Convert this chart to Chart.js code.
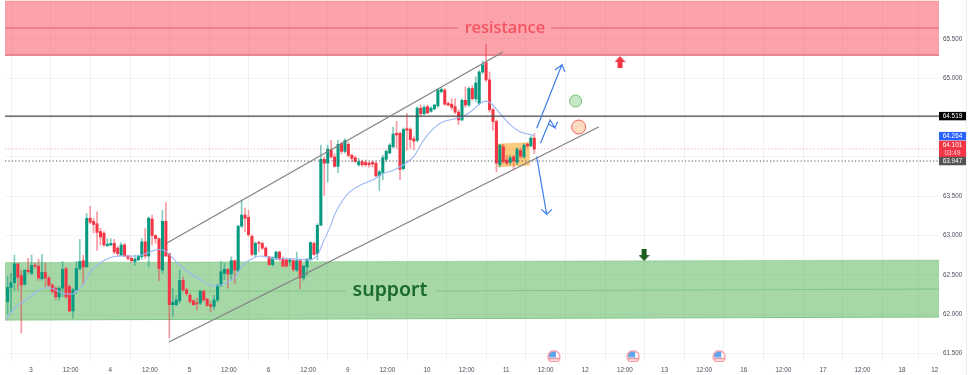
<!DOCTYPE html>
<html>
<head>
<meta charset="utf-8">
<title>Chart</title>
<style>
    html, body { margin: 0; padding: 0; background: #ffffff; }
    canvas { display: block; filter: blur(0.4px); }
</style>
<script src="https://cdn.jsdelivr.net/npm/chart.js@4/dist/chart.umd.min.js"></script>
</head>
<body>
<canvas id="priceChart" width="974" height="375"></canvas>
<script>
// candles, bar by bar
const opens = [62.16,62.34,62.40,62.64,62.49,62.38,62.56,62.52,62.62,62.61,62.45,62.53,62.46,62.37,62.33,62.22,62.33,62.58,62.35,62.04,62.31,62.58,62.68,62.60,63.22,63.18,63.15,63.05,63.03,62.87,62.88,62.90,62.84,62.75,62.88,62.74,62.71,62.67,62.69,62.73,62.92,62.74,63.21,63.00,62.96,62.56,63.18,62.77,62.12,62.12,62.17,62.43,62.31,62.24,62.17,62.14,62.14,62.29,62.19,62.12,62.10,62.18,62.37,62.52,62.57,62.51,62.68,62.55,63.12,63.26,63.23,62.99,62.76,62.91,62.90,62.84,62.73,62.63,62.71,62.79,62.70,62.69,62.67,62.68,62.56,62.68,62.46,62.60,62.70,62.90,62.77,63.13,63.97,63.92,64.09,64.00,63.88,64.17,64.07,64.16,64.02,63.99,63.90,63.94,63.93,63.92,63.93,63.92,63.76,63.80,63.97,64.05,64.13,64.30,64.30,63.85,64.36,64.35,64.23,64.21,64.62,64.55,64.64,64.58,64.61,64.65,64.83,64.85,64.68,64.67,64.64,64.57,64.47,64.72,64.66,64.87,64.74,64.68,65.08,65.20,64.98,64.60,64.45,63.90,64.13,63.96,63.93,64.00,63.93,64.08,64.00,64.16,64.14,64.24];
const highs = [62.48,62.52,62.75,62.64,62.56,62.56,62.71,62.75,62.65,62.70,62.76,62.65,62.48,62.39,62.35,62.35,62.67,62.60,62.37,62.33,62.67,62.95,62.75,63.28,63.37,63.22,63.30,63.09,63.05,62.96,62.96,62.95,62.86,62.91,62.90,62.75,62.74,62.75,62.75,62.96,63.09,63.24,63.26,63.01,62.97,63.32,63.42,62.77,62.33,62.24,62.56,62.47,62.33,62.26,62.18,62.20,62.31,62.31,62.20,62.16,62.24,62.38,62.67,62.65,62.58,62.73,62.69,63.13,63.44,63.35,63.32,63.01,62.92,62.93,62.92,62.86,62.73,62.73,62.80,62.80,62.73,62.71,62.71,62.70,62.79,62.69,62.62,62.71,62.92,62.92,63.15,64.15,64.00,64.15,64.21,64.04,64.21,64.19,64.23,64.19,64.04,64.01,63.98,63.96,63.96,63.94,63.95,63.94,63.83,64.02,64.09,64.17,64.38,64.45,64.32,64.37,64.55,64.37,64.26,64.64,64.66,64.66,64.66,64.64,64.67,64.87,64.88,64.87,64.70,64.74,64.74,64.60,64.74,64.89,64.89,64.91,65.02,65.10,65.22,65.43,65.08,64.62,64.47,64.16,64.16,64.02,64.02,64.02,64.12,64.11,64.17,64.18,64.26,64.30];
const lows = [62.00,62.03,62.31,62.31,61.76,62.37,62.52,62.50,62.58,62.43,62.43,62.35,62.35,62.26,62.18,62.18,62.22,62.20,62.03,61.95,62.26,62.56,62.39,62.60,63.15,63.03,62.81,62.88,62.86,62.86,62.87,62.77,62.74,62.74,62.73,62.69,62.66,62.62,62.68,62.70,62.71,62.60,62.88,62.90,62.43,62.52,62.73,61.70,61.97,62.10,62.14,62.29,62.24,62.14,62.11,62.05,62.12,62.16,62.10,62.03,62.06,62.16,62.35,62.44,62.33,62.43,62.39,62.54,63.10,63.05,62.99,62.74,62.73,62.79,62.82,62.73,62.62,62.61,62.69,62.68,62.60,62.60,62.62,62.54,62.54,62.32,62.43,62.49,62.68,62.75,62.69,63.13,63.51,63.68,63.98,63.87,63.80,64.04,64.05,64.00,63.94,63.93,63.88,63.88,63.88,63.87,63.87,63.75,63.57,63.71,63.94,64.04,64.11,64.11,63.71,63.83,64.09,64.11,64.09,64.19,64.51,64.53,64.55,64.57,64.60,64.63,64.81,64.66,64.65,64.60,64.55,64.41,64.46,64.63,64.64,64.72,64.70,64.66,65.06,64.96,64.57,64.34,63.81,63.87,63.92,63.90,63.90,63.84,63.90,63.98,63.98,64.12,64.13,64.04];
const closes = [62.34,62.40,62.64,62.47,62.37,62.56,62.54,62.62,62.61,62.46,62.53,62.46,62.37,62.29,62.22,62.33,62.57,62.22,62.04,62.31,62.58,62.67,62.60,63.22,63.17,63.14,63.04,62.98,62.88,62.89,62.90,62.79,62.77,62.88,62.74,62.71,62.68,62.70,62.74,62.92,62.74,63.22,63.00,62.96,62.58,63.18,62.74,62.12,62.15,62.18,62.43,62.31,62.26,62.16,62.12,62.13,62.29,62.18,62.11,62.10,62.18,62.37,62.54,62.57,62.51,62.68,62.56,63.12,63.26,63.22,63.01,62.76,62.90,62.90,62.84,62.74,62.63,62.72,62.79,62.70,62.61,62.61,62.69,62.57,62.68,62.46,62.61,62.70,62.91,62.76,63.13,63.97,63.92,64.10,64.00,63.88,64.16,64.07,64.21,64.02,63.98,63.94,63.94,63.90,63.90,63.90,63.91,63.76,63.81,63.99,64.07,64.15,64.29,64.28,63.84,64.35,64.34,64.22,64.20,64.62,64.55,64.63,64.56,64.62,64.66,64.85,64.86,64.67,64.66,64.63,64.57,64.47,64.72,64.66,64.87,64.74,64.94,65.08,65.17,64.98,64.60,64.45,63.92,64.15,63.94,63.92,63.99,63.95,64.10,64.01,64.15,64.14,64.24,64.10];

// moving average, sampled along the curve
const avgBars = [-0.4,1.2,2.7,4.6,6.6,8.5,10.5,12.8,14.7,16.7,19.1,20.6,22.0,23.5,25.4,27.9,30.8,33.7,36.5,38.9,41.4,43.3,45.7,47.2,48.7,50.6,53.0,56.0,58.8,60.7,63.6,66.1,67.5,69.0,71.4,73.4,75.8,78.2,81.0,84.0,86.9,88.8,90.3,91.7,93.7,95.6,99.0,102.4,106.2,109.1,112.1,115.0,117.9,120.8,123.7,126.6,129.5,132.4,135.3,137.2,139.2,140.7,143.1,146.0,148.8,151.3,153.0];
const avgValues = [61.93,62.03,62.10,62.16,62.22,62.29,62.33,62.33,62.29,62.26,62.26,62.31,62.37,62.50,62.60,62.68,62.73,62.74,62.74,62.75,62.79,62.82,62.81,62.75,62.68,62.60,62.52,62.44,62.37,62.36,62.40,62.47,62.57,62.65,62.71,62.74,62.72,62.70,62.71,62.70,62.69,62.70,62.77,62.92,63.11,63.32,63.54,63.64,63.71,63.79,63.83,63.90,64.00,64.21,64.36,64.45,64.48,64.52,64.60,64.68,64.71,64.67,64.55,64.41,64.32,64.29,64.27];

// axis labels
const xTickLabels = ['3','12:00','4','12:00','5','12:00','6','12:00','9','12:00','10','12:00','11','12:00','12','12:00','13','12:00','16','12:00','17','12:00','18','12'];
const hiddenPriceTicks = [64, 64.5];

// price tags on the right axis
const tagValues = [64.519, 64.264, 64.101, 63.947];
const tagTexts = [['64.519'], ['64.264'], ['64.101', '03:49'], ['63.947']];

// drawings on the chart
const resistanceTop = 65.983;
const resistanceMid = 65.64;
const resistanceBottom = 65.296;
const supportTop = [62.656, 62.688];
const supportMid = [62.294, 62.319];
const supportBottom = [61.925, 61.963];
const boxBars = [142.3, 151.7];
const boxTop = [64.164, 64.18];
const boxBottom = [63.876, 63.895];
const channelUpper = [{x: 46.3, y: 62.905}, {x: 143.9, y: 65.335}];
const channelLower = [{x: 46.9, y: 61.645}, {x: 171.7, y: 64.38}];
const blueUp = [{x: 153.7, y: 64.364}, {x: 161.0, y: 65.169}, {x: 159.0, y: 65.106}, {x: 161.0, y: 65.169}, {x: 161.9, y: 65.084}];
const blueZigzag = [{x: 154.8, y: 64.173}, {x: 157.6, y: 64.469}, {x: 159.0, y: 64.371}, {x: 157.1, y: 64.419}, {x: 159.0, y: 64.371}, {x: 159.8, y: 64.448}];
const blueDown = [{x: 153.7, y: 64.003}, {x: 156.6, y: 63.27}, {x: 155.1, y: 63.333}, {x: 156.6, y: 63.27}, {x: 158.1, y: 63.333}];
const greenCircle = [{x: 165.0, y: 64.711}];
const orangeCircle = [{x: 165.9, y: 64.38}];
const redArrow = [{x: 177.9, y: 65.207}];
const greenArrow = [{x: 184.9, y: 62.752}];
const eventFlags = [{x: 158.7, y: 61.458}, {x: 181.7, y: 61.458}, {x: 206.7, y: 61.458}];
const resistanceLabel = {text: 'resistance', x: 144.5, y: 65.64};
const supportLabel = {text: 'support', x: 111.1, y: 62.30};
const resistanceGap = [130.8, 157.9];
const supportGap = [98.3, 124.5];

const xMin = -0.73;
const xMax = 270.55;
const yMin = 61.391;
const yMax = 65.996;
const firstTick = 6.83;
const barsPerTick = 11.5;

const upColor = '#089981';
const downColor = '#f23645';
const gridColor = 'rgba(42, 46, 57, 0.06)';
const labelFont = "'Liberation Sans', sans-serif";

function makeArrow(color, pointsDown) {
    const canvas = document.createElement('canvas');
    canvas.width = 11;
    canvas.height = 12;
    const ctx = canvas.getContext('2d');
    ctx.fillStyle = color;
    if (pointsDown) {
        ctx.translate(0, 12);
        ctx.scale(1, -1);
    }
    ctx.beginPath();
    ctx.moveTo(5.5, 0);
    ctx.lineTo(11, 6);
    ctx.lineTo(8, 6);
    ctx.lineTo(8, 12);
    ctx.lineTo(3, 12);
    ctx.lineTo(3, 6);
    ctx.lineTo(0, 6);
    ctx.closePath();
    ctx.fill();
    return canvas;
}

function makeFlag() {
    const canvas = document.createElement('canvas');
    canvas.width = 14;
    canvas.height = 14;
    const ctx = canvas.getContext('2d');
    ctx.beginPath();
    ctx.arc(7, 7, 6, 0, Math.PI * 2);
    ctx.fillStyle = '#ffffff';
    ctx.fill();
    ctx.save();
    ctx.clip();
    ctx.fillStyle = '#f28b94';
    ctx.fillRect(1, 8, 12, 1.5);
    ctx.fillRect(1, 11, 12, 1.5);
    ctx.fillStyle = '#5aa5ee';
    ctx.fillRect(2, 2, 7, 5.5);
    ctx.restore();
    ctx.beginPath();
    ctx.arc(7, 7, 6, 0, Math.PI * 2);
    ctx.strokeStyle = '#fb9da5';
    ctx.lineWidth = 1.4;
    ctx.stroke();
    return canvas;
}

function lineAt(data, color, width, order, extra) {
    return Object.assign({
        type: 'line',
        data: data,
        borderColor: color,
        borderWidth: width,
        pointRadius: 0,
        tension: 0,
        fill: false,
        order: order
    }, extra || {});
}

function levelAt(price, color, width, order, dash) {
    const data = [{x: xMin, y: price}, {x: xMax, y: price}];
    return lineAt(data, color, width, order, {borderDash: dash || []});
}

function markerAt(data, style, radius, order, fillColor, edgeColor) {
    return {
        type: 'line',
        data: data,
        showLine: false,
        pointStyle: style,
        pointRadius: radius,
        pointBackgroundColor: fillColor,
        pointBorderColor: edgeColor,
        pointBorderWidth: 1,
        order: order
    };
}

function candleColor(context) {
    const i = context.dataIndex;
    return closes[i] >= opens[i] ? upColor : downColor;
}

const bars = opens.map(function(open, i) { return i; });

const wickBars = {
    type: 'bar',
    data: bars.map(function(i) { return {x: i, y: [lows[i], highs[i]]}; }),
    backgroundColor: function(context) { return candleColor(context) + '80'; },
    barThickness: 1,
    grouped: false,
    order: 41
};

const bodyBars = {
    type: 'bar',
    data: bars.map(function(i) { return {x: i, y: [Math.min(opens[i], closes[i]), Math.max(opens[i], closes[i])]}; }),
    backgroundColor: candleColor,
    barThickness: 2.4,
    minBarLength: 1,
    grouped: false,
    order: 40
};

const datasets = [
    // resistance zone
    lineAt([{x: xMin, y: resistanceTop}, {x: xMax, y: resistanceTop}], 'rgba(242, 54, 69, 0.25)', 1, 60, {
        fill: {target: {value: resistanceBottom}},
        backgroundColor: 'rgba(250, 70, 88, 0.5)'
    }),
    lineAt([{x: xMin, y: resistanceBottom}, {x: xMax, y: resistanceBottom}], '#e0606e', 1.2, 59),
    lineAt([{x: xMin, y: resistanceMid}, {x: resistanceGap[0], y: resistanceMid}], '#e0606e', 1, 59),
    lineAt([{x: resistanceGap[1], y: resistanceMid}, {x: xMax, y: resistanceMid}], '#e0606e', 1, 59),
    // support zone
    lineAt([{x: xMin, y: supportTop[0]}, {x: xMax, y: supportTop[1]}], 'rgba(102, 187, 106, 0.35)', 1, 60, {
        fill: '+1',
        backgroundColor: 'rgba(76, 175, 80, 0.5)'
    }),
    lineAt([{x: xMin, y: supportBottom[0]}, {x: xMax, y: supportBottom[1]}], '#7fc783', 1, 59),
    lineAt([{x: xMin, y: supportMid[0]}, {x: supportGap[0], y: supportMid[0]}], '#7fc783', 1, 59),
    lineAt([{x: supportGap[1], y: supportMid[0]}, {x: xMax, y: supportMid[1]}], '#7fc783', 1, 59),
    // box around the consolidation
    lineAt([{x: boxBars[0], y: boxTop[0]}, {x: boxBars[1], y: boxTop[1]}], 'rgba(255, 152, 0, 0.3)', 1, 50, {
        fill: '+1',
        backgroundColor: 'rgba(255, 152, 0, 0.5)'
    }),
    lineAt([{x: boxBars[0], y: boxBottom[0]}, {x: boxBars[1], y: boxBottom[1]}], 'rgba(255, 152, 0, 0.3)', 1, 50),
    // candles and average
    wickBars,
    bodyBars,
    lineAt(avgValues.map(function(value, i) { return {x: avgBars[i], y: value}; }), '#9db8f5', 1.1, 30, {tension: 0.3}),
    // price levels
    levelAt(64.101, 'rgba(242, 54, 69, 0.45)', 0.8, 26, [1.5, 2]),
    levelAt(63.947, '#555555', 1.1, 25, [1.2, 2.2]),
    levelAt(64.519, '#4a4a4a', 1.4, 24),
    // channel
    lineAt(channelUpper, '#808080', 1.2, 20),
    lineAt(channelLower, '#808080', 1.2, 20),
    // scenario arrows
    lineAt(blueUp, '#3f7de8', 1.2, 10),
    lineAt(blueZigzag, '#3f7de8', 1.2, 10),
    lineAt(blueDown, '#3f7de8', 1.2, 10),
    // markers
    markerAt(greenCircle, 'circle', 6, 5, '#c6e8c6', '#74c074'),
    markerAt(orangeCircle, 'circle', 7, 5, '#fbdcc0', '#f26060'),
    markerAt(redArrow, makeArrow('#f23645', false), 6, 5),
    markerAt(greenArrow, makeArrow('#1b5e20', true), 6, 5),
    markerAt(eventFlags, makeFlag(), 7, 5)
];

const drawingsPlugin = {
    id: 'drawings',
    afterDatasetsDraw: function(chart) {
        const ctx = chart.ctx;
        const x = chart.scales.x;
        const y = chart.scales.y;
        ctx.save();
        ctx.textAlign = 'center';
        ctx.textBaseline = 'middle';
        ctx.font = "500 16.5px 'Noto Sans', sans-serif";
        ctx.fillStyle = '#f5515f';
        ctx.fillText(resistanceLabel.text, x.getPixelForValue(resistanceLabel.x), y.getPixelForValue(resistanceLabel.y));
        ctx.font = "600 19.5px 'Noto Sans', sans-serif";
        ctx.fillStyle = '#1b6b2a';
        ctx.fillText(supportLabel.text, x.getPixelForValue(supportLabel.x), y.getPixelForValue(supportLabel.y));
        ctx.restore();
    },
    afterDraw: function(chart) {
        const ctx = chart.ctx;
        const y = chart.scales.y;
        const left = chart.chartArea.right;
        const tagColors = ['#000000', '#2962ff', '#f23645', '#555555'];
        ctx.save();
        ctx.fillStyle = '#eceef2';
        ctx.fillRect(966, 0, 1, 375);
        ctx.font = '6.3px ' + labelFont;
        ctx.textAlign = 'center';
        ctx.textBaseline = 'middle';
        tagValues.forEach(function(value, i) {
            const lines = tagTexts[i];
            const height = lines.length > 1 ? 16.5 : 8.4;
            const center = y.getPixelForValue(value);
            ctx.fillStyle = tagColors[i];
            ctx.fillRect(left, center - height / 2, 27, height);
            ctx.fillStyle = '#ffffff';
            lines.forEach(function(line, n) {
                const offset = lines.length > 1 ? (n === 0 ? -3.7 : 4) : 0;
                ctx.fillStyle = n === 0 ? '#ffffff' : '#ffd0d4';
                ctx.fillText(line, left + 13.5, center + offset);
            });
        });
        ctx.restore();
    }
};

const priceChart = new Chart(document.getElementById('priceChart').getContext('2d'), {
    type: 'bar',
    data: { datasets: datasets },
    plugins: [drawingsPlugin],
    options: {
        responsive: false,
        animation: false,
        layout: { autoPadding: false, padding: { left: 5, top: 0, right: 0, bottom: 0 } },
        plugins: {
            legend: { display: false },
            tooltip: { enabled: false }
        },
        scales: {
            x: {
                type: 'linear',
                offset: false,
                min: xMin,
                max: xMax,
                afterFit: function(scale) {
                    scale.height = 13;
                    scale.paddingLeft = 0;
                    scale.paddingRight = 0;
                },
                afterBuildTicks: function(scale) {
                    scale.ticks = xTickLabels.map(function(label, i) {
                        const isLast = i === xTickLabels.length - 1;
                        return { value: isLast ? xMax - 1.2 : firstTick + i * barsPerTick };
                    });
                },
                grid: { color: gridColor, drawTicks: false },
                border: { display: false },
                ticks: {
                    autoSkip: false,
                    maxRotation: 0,
                    padding: 4,
                    color: '#4a4f5c',
                    font: { family: labelFont, size: 6.3 },
                    callback: function(value, index) { return xTickLabels[index]; }
                }
            },
            y: {
                position: 'right',
                min: yMin,
                max: yMax,
                afterFit: function(scale) {
                    scale.width = 35;
                    scale.paddingTop = 0;
                    scale.paddingBottom = 0;
                },
                grid: { color: gridColor, drawTicks: false },
                border: { display: false },
                ticks: {
                    stepSize: 0.5,
                    includeBounds: false,
                    padding: 4,
                    color: '#4a4f5c',
                    font: { family: labelFont, size: 6.3 },
                    callback: function(value) {
                        return hiddenPriceTicks.indexOf(value) >= 0 ? '' : value.toFixed(3);
                    }
                }
            }
        }
    }
});
</script>
</body>
</html>
